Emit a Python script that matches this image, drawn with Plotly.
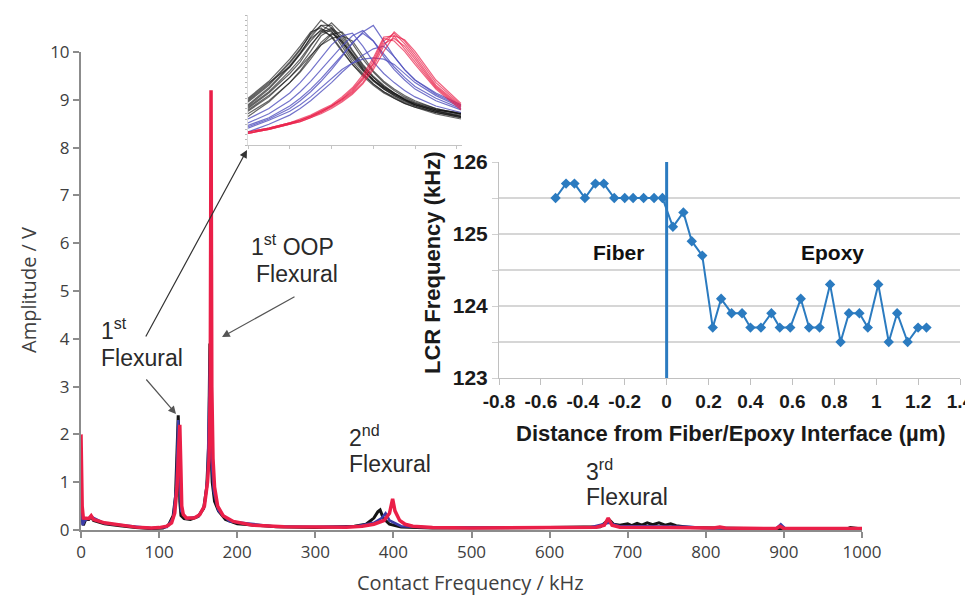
import plotly.graph_objects as go

# the page body has an 8 px margin, so the figure is drawn 8 px in from the window corner
OFF = 8
W, H = 973, 597 - OFF

def px(x):
    return (x - OFF) / W

def py(y):
    return 1 - (y - OFF) / H

# ---------------- main spectrum (Contact Frequency kHz, Amplitude V) ----------------
black_freq = [0, 1, 3, 6, 10, 13, 16, 30, 50, 70, 90, 105, 112, 118, 121, 123, 124.5, 125.5, 126.5, 128,
              132, 140, 150, 157, 161, 163.5, 165, 166, 168, 171, 176, 185, 200, 250, 300, 350, 365, 375,
              380, 383, 387, 395, 410, 450, 600, 665, 676, 682, 690, 700, 705, 712, 718, 725, 732, 740,
              748, 755, 762, 780, 850, 980, 985, 1000]
black_amp = [0.6, 0.3, 0.1, 0.22, 0.22, 0.28, 0.2, 0.13, 0.09, 0.05, 0.03, 0.04, 0.1, 0.3, 0.7, 1.5, 2.4, 1.8, 0.6, 0.3,
             0.24, 0.22, 0.28, 0.45, 0.9, 1.8, 3.9, 1.8, 1.0, 0.6, 0.4, 0.22, 0.13, 0.07, 0.05, 0.08, 0.12, 0.25,
             0.38, 0.42, 0.25, 0.12, 0.06, 0.04, 0.05, 0.07, 0.22, 0.12, 0.1, 0.13, 0.09, 0.14, 0.1, 0.15, 0.11, 0.15,
             0.1, 0.13, 0.09, 0.05, 0.03, 0.02, 0.05, 0.02]

blue_freq = [0, 2, 5, 13, 30, 50, 90, 110, 118, 122, 124.5, 126, 128, 135, 150, 158, 162, 165.5, 167, 170,
             176, 190, 250, 350, 375, 385, 390, 395, 410, 450, 650, 676, 690, 720, 780, 795, 890, 896, 902, 1000]
blue_amp = [0.7, 0.1, 0.2, 0.28, 0.14, 0.1, 0.035, 0.06, 0.25, 0.9, 2.3, 1.2, 0.4, 0.24, 0.28, 0.5, 1.1, 3.8, 1.5, 0.8,
            0.4, 0.18, 0.07, 0.07, 0.15, 0.25, 0.35, 0.2, 0.08, 0.05, 0.05, 0.15, 0.08, 0.08, 0.07, 0.04, 0.03, 0.12, 0.03, 0.03]

red_freq = [0, 0.5, 1.5, 3, 6, 10, 13, 16, 30, 50, 70, 90, 100, 110, 116, 120, 123, 125, 126.5, 128, 129,
            131, 135, 145, 152, 158, 162, 164, 165.5, 166.5, 167.5, 169, 171, 175, 182, 195, 220, 260, 300,
            340, 360, 375, 388, 395, 399, 402, 408, 415, 425, 450, 500, 600, 660, 670, 675, 680, 690, 750,
            810, 818, 825, 890, 895, 900, 950, 1000]
red_amp = [2.0, 1.5, 0.5, 0.25, 0.25, 0.24, 0.3, 0.22, 0.15, 0.1, 0.06, 0.04, 0.05, 0.08, 0.15, 0.35, 0.9, 1.7, 2.2, 1.2, 0.5,
           0.32, 0.25, 0.25, 0.32, 0.5, 1.0, 1.5, 3.0, 9.2, 3.0, 1.5, 0.9, 0.5, 0.3, 0.18, 0.1, 0.07, 0.06,
           0.06, 0.08, 0.12, 0.2, 0.35, 0.65, 0.4, 0.2, 0.12, 0.08, 0.05, 0.04, 0.05, 0.06, 0.1, 0.25, 0.1, 0.06, 0.05,
           0.04, 0.06, 0.04, 0.03, 0.08, 0.03, 0.03, 0.03]

main_xticks = [0, 100, 200, 300, 400, 500, 600, 700, 800, 900, 1000]
main_yticks = [0, 1, 2, 3, 4, 5, 6, 7, 8, 9, 10]

# ---------------- zoomed inset of the 1st flexural peak (relative amplitude) ----------------
inset_freq = [120, 121, 122, 122.5, 123, 123.5, 124, 124.5, 125, 125.5, 126, 126.5, 127, 127.5, 128, 129, 130.2]
inset_black = [
    [0.33, 0.46, 0.63, 0.73, 0.86, 0.96, 0.90, 0.78, 0.66, 0.57, 0.49, 0.43, 0.38, 0.34, 0.31, 0.26, 0.23],
    [0.30, 0.43, 0.60, 0.70, 0.83, 0.92, 0.88, 0.76, 0.64, 0.55, 0.47, 0.41, 0.37, 0.33, 0.30, 0.25, 0.22],
    [0.28, 0.40, 0.55, 0.64, 0.76, 0.87, 0.94, 0.86, 0.73, 0.62, 0.53, 0.46, 0.40, 0.36, 0.32, 0.27, 0.24],
    [0.26, 0.37, 0.52, 0.61, 0.72, 0.84, 0.89, 0.82, 0.70, 0.59, 0.50, 0.44, 0.39, 0.35, 0.31, 0.26, 0.22],
    [0.36, 0.49, 0.66, 0.76, 0.87, 0.90, 0.83, 0.72, 0.62, 0.53, 0.46, 0.40, 0.36, 0.32, 0.29, 0.25, 0.21],
    [0.24, 0.34, 0.48, 0.56, 0.66, 0.77, 0.85, 0.87, 0.78, 0.66, 0.56, 0.48, 0.42, 0.37, 0.33, 0.28, 0.24],
    [0.22, 0.33, 0.48, 0.57, 0.68, 0.79, 0.86, 0.80, 0.69, 0.58, 0.50, 0.43, 0.38, 0.34, 0.30, 0.25, 0.21],
    [0.34, 0.47, 0.64, 0.74, 0.85, 0.92, 0.92, 0.80, 0.68, 0.58, 0.50, 0.44, 0.39, 0.35, 0.31, 0.27, 0.24],
    [0.29, 0.41, 0.57, 0.66, 0.77, 0.86, 0.90, 0.84, 0.72, 0.61, 0.52, 0.45, 0.40, 0.35, 0.31, 0.26, 0.22],
    [0.31, 0.44, 0.61, 0.71, 0.82, 0.88, 0.84, 0.73, 0.62, 0.54, 0.47, 0.41, 0.36, 0.32, 0.29, 0.24, 0.20],
    [0.27, 0.38, 0.52, 0.60, 0.69, 0.77, 0.82, 0.84, 0.80, 0.68, 0.57, 0.49, 0.43, 0.38, 0.34, 0.28, 0.24],
    [0.35, 0.48, 0.60, 0.70, 0.80, 0.89, 0.87, 0.79, 0.70, 0.60, 0.52, 0.45, 0.40, 0.35, 0.32, 0.27, 0.25],
]
inset_blue = [
    [0.20, 0.28, 0.40, 0.48, 0.57, 0.67, 0.77, 0.84, 0.86, 0.76, 0.64, 0.55, 0.48, 0.42, 0.37, 0.30, 0.25],
    [0.17, 0.24, 0.34, 0.41, 0.49, 0.58, 0.67, 0.76, 0.84, 0.88, 0.80, 0.68, 0.58, 0.50, 0.43, 0.34, 0.27],
    [0.15, 0.21, 0.30, 0.36, 0.43, 0.51, 0.60, 0.69, 0.78, 0.87, 0.92, 0.80, 0.68, 0.58, 0.50, 0.39, 0.30],
    [0.13, 0.19, 0.26, 0.31, 0.37, 0.44, 0.51, 0.58, 0.63, 0.66, 0.67, 0.66, 0.62, 0.55, 0.48, 0.38, 0.29],
    [0.10, 0.16, 0.23, 0.28, 0.34, 0.41, 0.48, 0.56, 0.63, 0.69, 0.74, 0.76, 0.68, 0.58, 0.50, 0.40, 0.31],
    [0.14, 0.20, 0.28, 0.34, 0.41, 0.49, 0.58, 0.68, 0.79, 0.86, 0.80, 0.70, 0.60, 0.52, 0.45, 0.36, 0.28],
]
inset_red = [
    [0.10, 0.13, 0.17, 0.19, 0.22, 0.26, 0.30, 0.35, 0.41, 0.50, 0.63, 0.80, 0.86, 0.78, 0.68, 0.46, 0.30],
    [0.09, 0.12, 0.16, 0.18, 0.21, 0.25, 0.29, 0.34, 0.40, 0.48, 0.60, 0.76, 0.87, 0.80, 0.70, 0.48, 0.31],
    [0.10, 0.13, 0.17, 0.20, 0.23, 0.27, 0.31, 0.37, 0.44, 0.54, 0.67, 0.83, 0.84, 0.74, 0.64, 0.44, 0.28],
    [0.09, 0.12, 0.16, 0.19, 0.22, 0.25, 0.30, 0.35, 0.42, 0.51, 0.62, 0.78, 0.82, 0.76, 0.66, 0.45, 0.29],
    [0.10, 0.13, 0.17, 0.19, 0.22, 0.26, 0.30, 0.36, 0.43, 0.52, 0.65, 0.82, 0.80, 0.72, 0.62, 0.43, 0.27],
    [0.09, 0.12, 0.16, 0.18, 0.21, 0.24, 0.28, 0.33, 0.39, 0.47, 0.58, 0.72, 0.84, 0.81, 0.72, 0.50, 0.32],
]

# ---------------- LCR frequency vs distance inset ----------------
lcr_distance = [-0.53, -0.48, -0.44, -0.39, -0.34, -0.30, -0.25, -0.20, -0.16, -0.11, -0.06, -0.02,
                0.03, 0.08, 0.12, 0.17, 0.22, 0.26, 0.31, 0.36, 0.40, 0.45, 0.50, 0.54, 0.59, 0.64,
                0.68, 0.73, 0.78, 0.83, 0.87, 0.92, 0.96, 1.01, 1.06, 1.10, 1.15, 1.20, 1.24]
lcr_freq = [125.5, 125.7, 125.7, 125.5, 125.7, 125.7, 125.5, 125.5, 125.5, 125.5, 125.5, 125.5,
            125.1, 125.3, 124.9, 124.7, 123.7, 124.1, 123.9, 123.9, 123.7, 123.7, 123.9, 123.7, 123.7, 124.1,
            123.7, 123.7, 124.3, 123.5, 123.9, 123.9, 123.7, 124.3, 123.5, 123.9, 123.5, 123.7, 123.7]
lcr_xticks = [-0.8, -0.6, -0.4, -0.2, 0, 0.2, 0.4, 0.6, 0.8, 1, 1.2, 1.4]
lcr_xtext = ["-0.8", "-0.6", "-0.4", "-0.2", "0", "0.2", "0.4", "0.6", "0.8", "1", "1.2", "1.4"]
lcr_yticks = [123, 124, 125, 126]
interface_x = 0

RED = "#EA1F48"
BLACK = "#141414"
BLUE = "#3C3CA8"
LCR_BLUE = "#2B7BC0"

fig = go.Figure()

fig.add_trace(go.Scatter(x=black_freq, y=black_amp, mode="lines", line=dict(color=BLACK, width=3),
                         xaxis="x", yaxis="y", hoverinfo="skip"))
fig.add_trace(go.Scatter(x=blue_freq, y=blue_amp, mode="lines", line=dict(color=BLUE, width=2.5),
                         xaxis="x", yaxis="y", hoverinfo="skip"))
fig.add_trace(go.Scatter(x=red_freq, y=red_amp, mode="lines", line=dict(color=RED, width=3.5),
                         xaxis="x", yaxis="y", hoverinfo="skip"))

for c in inset_black:
    fig.add_trace(go.Scatter(x=inset_freq, y=c, mode="lines", line=dict(color="rgba(20,20,20,0.65)", width=1.2),
                             xaxis="x2", yaxis="y2", hoverinfo="skip"))
for c in inset_blue:
    fig.add_trace(go.Scatter(x=inset_freq, y=c, mode="lines", line=dict(color="rgba(80,80,190,0.8)", width=1.2),
                             xaxis="x2", yaxis="y2", hoverinfo="skip"))
for c in inset_red:
    fig.add_trace(go.Scatter(x=inset_freq, y=c, mode="lines", line=dict(color="rgba(234,31,72,0.7)", width=1.2),
                             xaxis="x2", yaxis="y2", hoverinfo="skip"))

fig.add_trace(go.Scatter(x=[interface_x, interface_x], y=[lcr_yticks[0], lcr_yticks[-1]], mode="lines",
                         line=dict(color=LCR_BLUE, width=3), xaxis="x3", yaxis="y3", hoverinfo="skip"))
fig.add_trace(go.Scatter(x=lcr_distance, y=lcr_freq, mode="lines+markers",
                         line=dict(color=LCR_BLUE, width=2),
                         marker=dict(symbol="diamond", size=8, color=LCR_BLUE),
                         xaxis="x3", yaxis="y3", hoverinfo="skip"))

AX = "#8c8c8c"
TICKF = dict(family="Open Sans", size=17, color="#404040")
LCRF = dict(family="Liberation Sans", size=19, color="#1a1a1a", weight="bold")

fig.update_layout(
    width=W, height=H, margin=dict(l=0, r=0, t=0, b=0, autoexpand=False),
    paper_bgcolor="white", plot_bgcolor="rgba(0,0,0,0)", showlegend=False,
    xaxis=dict(domain=[px(81), px(862)], range=[0, 1000], anchor="y", tickvals=main_xticks,
               showline=True, linecolor=AX, linewidth=2, ticks="outside", ticklen=6, tickcolor=AX,
               tickwidth=1.5, showgrid=False, zeroline=False, tickfont=TICKF, automargin=False),
    yaxis=dict(domain=[py(530), py(52)], range=[0, 10], anchor="x", tickvals=main_yticks,
               showline=True, linecolor=AX, linewidth=2, ticks="outside", ticklen=6, tickcolor=AX,
               tickwidth=1.5, showgrid=False, zeroline=False, tickfont=TICKF, automargin=False),
    xaxis2=dict(domain=[px(248), px(462)], range=[120, 130.25], anchor="y2", dtick=2, tick0=120,
                showline=True, linecolor="#c4c4c4", linewidth=1, ticks="outside", ticklen=3,
                tickcolor="#c4c4c4", showticklabels=False, showgrid=False, zeroline=False, automargin=False),
    yaxis2=dict(domain=[py(145), py(15)], range=[0, 1], anchor="x2", dtick=0.04,
                showline=True, linecolor="#dcdcdc", linewidth=1, ticks="outside", ticklen=2,
                tickcolor="#b8b8b8", showticklabels=False, showgrid=False, zeroline=False, automargin=False),
    xaxis3=dict(domain=[px(499), px(960)], range=[-0.8, 1.4], anchor="y3", tickvals=lcr_xticks,
                ticktext=lcr_xtext, showline=True, linecolor="#c0c0c0", linewidth=1, ticks="outside",
                ticklen=6, tickcolor="#c0c0c0", showgrid=False, zeroline=False, tickfont=LCRF,
                automargin=False, ticklabeloverflow="allow"),
    yaxis3=dict(domain=[py(378), py(162)], range=[123, 126], anchor="x3", tickvals=lcr_yticks,
                showline=True, linecolor="#c0c0c0", linewidth=1, ticks="outside", ticklen=6,
                tickcolor="#d0d0d0", showgrid=True, gridcolor="#d6d6d6", gridwidth=1.5, zeroline=False,
                tickfont=dict(family="Liberation Sans", size=21, color="#1a1a1a", weight="bold"),
                automargin=False,
                minor=dict(dtick=0.5, showgrid=True, gridcolor="#d6d6d6", gridwidth=1.5,
                           ticks="outside", ticklen=6, tickcolor="#d0d0d0")),
)

ann = []
TXT = dict(family="Liberation Sans", size=23, color="#2a2a2a")

def label(x, y, text, font=TXT, anchor="left", angle=0):
    ann.append(dict(x=px(x), y=py(y), xref="paper", yref="paper", text=text, showarrow=False,
                    xanchor=anchor, yanchor="middle", font=font, textangle=angle))

# axis titles
label(470, 582, "Contact Frequency / kHz", font=dict(family="Open Sans", size=20, color="#404040"), anchor="center")
label(28, 290, "Amplitude / V", font=dict(family="Open Sans", size=20, color="#404040"), anchor="center", angle=-90)
label(731, 433, "Distance from Fiber/Epoxy Interface (µm)",
      font=dict(family="Liberation Sans", size=22, color="#1a1a1a", weight="bold"), anchor="center")
label(432, 263, "LCR Frequency (kHz)",
      font=dict(family="Liberation Sans", size=22, color="#1a1a1a", weight="bold"), anchor="center", angle=-90)
label(618, 252, "Fiber", font=dict(family="Liberation Sans", size=21, color="#111", weight="bold"), anchor="center")
label(832, 252, "Epoxy", font=dict(family="Liberation Sans", size=21, color="#111", weight="bold"), anchor="center")

# peak labels
label(99, 329, "1<sup>st</sup>")
label(99, 358, "Flexural")
label(249, 245, "1<sup>st</sup> OOP")
label(254, 274, "Flexural")
label(347, 436, "2<sup>nd</sup>")
label(347, 464, "Flexural")
label(584, 470, "3<sup>rd</sup>")
label(584, 497, "Flexural")

# arrows
def arrow(x0, y0, x1, y1, color="#3a3a3a"):
    ann.append(dict(x=px(x1), y=py(y1), xref="paper", yref="paper", ax=x0 - x1, ay=y0 - y1,
                    axref="pixel", ayref="pixel", text="", showarrow=True, arrowhead=2,
                    arrowsize=1.3, arrowwidth=1.2, arrowcolor=color))

arrow(145, 338, 247, 150, "#333333")
arrow(145, 378, 176, 414, "#555555")
arrow(296, 296, 222, 337, "#555555")

fig.update_layout(annotations=ann)
fig.write_html("out.html")
